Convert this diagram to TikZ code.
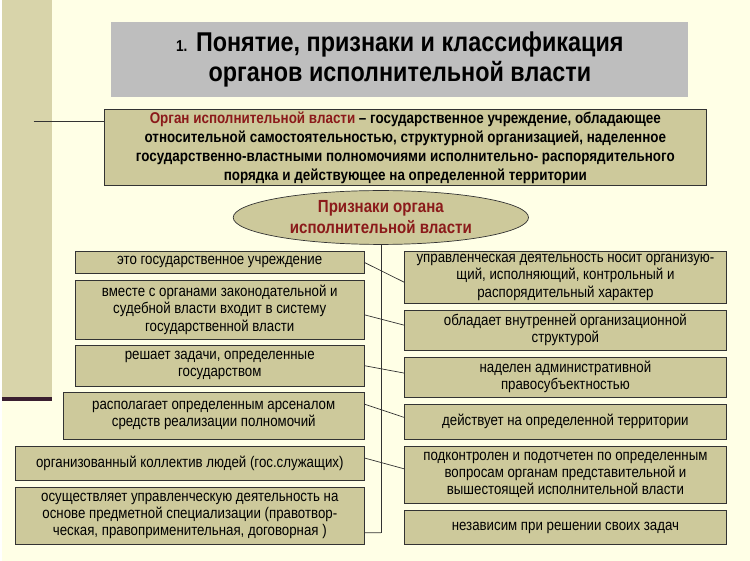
\documentclass[tikz,border=0pt]{standalone}
\usepackage{fontspec}
\setmainfont{Liberation Sans}[FakeStretch=0.86]
\usetikzlibrary{shapes.geometric}
\definecolor{bgcream}{HTML}{FFFFE6}
\definecolor{stripkhaki}{HTML}{D8D4AA}
\definecolor{boxkhaki}{HTML}{CDC99B}
\definecolor{titlegray}{HTML}{BEBEBE}
\definecolor{darkred}{HTML}{8B1A1A}
\definecolor{plum}{HTML}{3A1F30}
\begin{document}
\begin{tikzpicture}[
      x=0.02cm, y=-0.02cm,
      % boxes of the scheme
      box/.style={draw=black!80, fill=boxkhaki, align=center, inner sep=1pt, font=\fontsize{8.8}{9.8}\selectfont},
      link/.style={draw=black!80, thin},
      oval/.style={ellipse, draw=black!80, fill=boxkhaki, inner sep=0pt}
  ]
  % background and page decoration
  \fill[bgcream] (0,0) rectangle (750,562);
  \fill[stripkhaki] (0,0) rectangle (50,400);
  \draw[plum, line width=2pt] (0,400) -- (50,400);
  \coordinate (bar0) at (32,122);

  % title
  \node[fill=titlegray, minimum width=578*0.02cm, minimum height=75*0.02cm, align=center,
        font=\fontsize{15.5}{17.5}\selectfont\bfseries] (title) at (399,59.5)
    {{\small 1.} Понятие, признаки и классификация\\органов исполнительной власти};

  % definition
  \node[box, minimum width=603*0.02cm, minimum height=76*0.02cm, font=\fontsize{8.9}{10.8}\selectfont\bfseries] (defn) at (404.5,148)
    {{\color{darkred}Орган исполнительной власти} -- государственное учреждение, обладающее\\
     относительной самостоятельностью, структурной организацией, наделенное\\
     государственно-властными полномочиями исполнительно- распорядительного\\
     порядка и действующее на определенной территории};
  \draw[link, thick] (bar0) -- (defn.west |- bar0);

  % features
  \node[oval, minimum width=296*0.02cm, minimum height=54*0.02cm, align=center,
        font=\fontsize{10}{12}\selectfont\bfseries\color{darkred}] (signs) at (380,218)
    {Признаки органа\\исполнительной власти};
  \coordinate (spine) at (380,534);
  \draw[link] (signs) -- (spine);

  % left column
  \node[box, minimum width=289*0.02cm, minimum height=22*0.02cm] (L1) at (218.5,263) {это государственное учреждение};
  \node[box, minimum width=289*0.02cm, minimum height=59*0.02cm] (L2) at (218.5,310.5) {вместе с органами законодательной и\\судебной власти входит в систему\\государственной власти};
  \node[box, minimum width=289*0.02cm, minimum height=41*0.02cm] (L3) at (218.5,366.5) {решает задачи, определенные\\государством};
  \node[box, minimum width=301*0.02cm, minimum height=47*0.02cm] (L4) at (212.5,416.5) {располагает определенным арсеналом\\средств реализации полномочий};
  \node[box, minimum width=349*0.02cm, minimum height=34*0.02cm] (L5) at (188.5,464) {организованный коллектив людей (гос.служащих)};
  \node[box, minimum width=349*0.02cm, minimum height=58*0.02cm] (L6) at (188.5,517) {осуществляет управленческую деятельность на\\основе предметной специализации (правотвор-\\ческая, правоприменительная, договорная )};

  % right column
  \node[box, minimum width=322*0.02cm, minimum height=52*0.02cm] (R1) at (565,278) {управленческая деятельность носит организую-\\щий, исполняющий, контрольный и\\распорядительный характер};
  \node[box, minimum width=322*0.02cm, minimum height=40*0.02cm] (R2) at (565,331) {обладает внутренней организационной\\структурой};
  \node[box, minimum width=322*0.02cm, minimum height=40*0.02cm] (R3) at (565,378) {наделен административной\\правосубъектностью};
  \node[box, minimum width=322*0.02cm, minimum height=35*0.02cm] (R4) at (565,422.5) {действует на определенной территории};
  \node[box, minimum width=322*0.02cm, minimum height=58*0.02cm] (R5) at (565,476) {подконтролен и подотчетен по определенным\\вопросам органам представительной и\\вышестоящей исполнительной власти};
  \node[box, minimum width=322*0.02cm, minimum height=34*0.02cm] (R6) at (565,529) {независим при решении своих задач};

  % connectors
  \draw[link] (L1.east) -- ([yshift=-0.1cm]R1.west);
  \draw[link] ([yshift=-0.1cm]L2.east) -- ([yshift=0.1cm]R2.west);
  \draw[link] (L3.east) -- ([yshift=0.08cm]R3.west);
  \draw[link] ([yshift=0.23cm]L4.east) -- ([yshift=0.08cm]R4.west);
  \draw[link] ([yshift=0.1cm]L5.east) -- ([yshift=0.12cm]R5.west);
  \draw[link] ([yshift=-0.34cm]L6.east) -- (spine);
\end{tikzpicture}
\end{document}
